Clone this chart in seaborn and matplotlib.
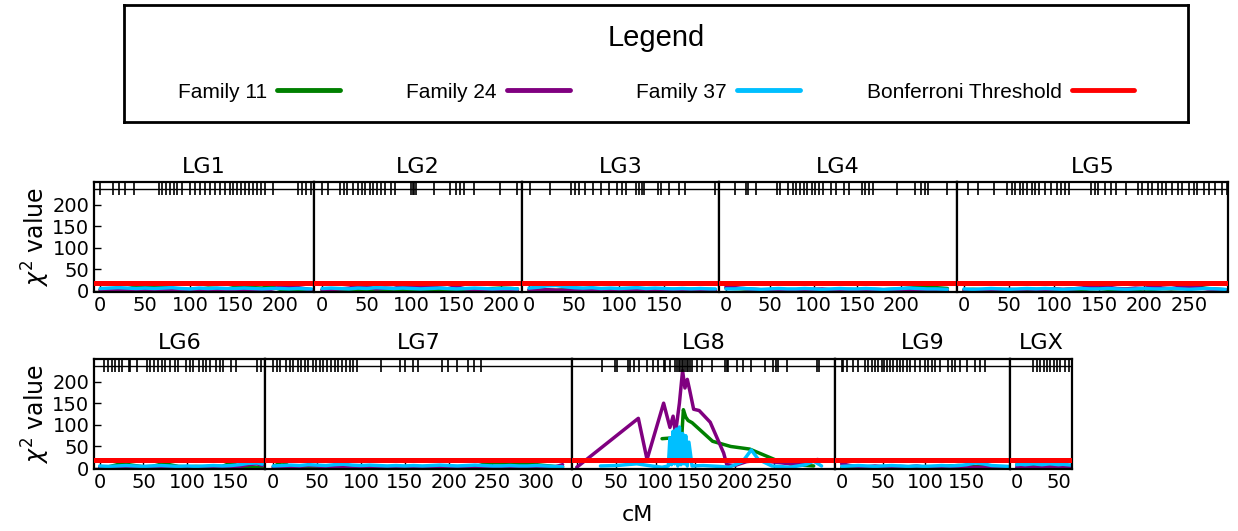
import numpy as np
import pandas as pd
import matplotlib
matplotlib.use("Agg")
import matplotlib.pyplot as plt
import seaborn as sns
from matplotlib.lines import Line2D

sns.set_theme(style="white")
plt.rcParams["font.family"] = ["DejaVu Sans"]
plt.rcParams["text.color"] = "black"
plt.rcParams["axes.labelcolor"] = "black"
plt.rcParams["xtick.color"] = "black"
plt.rcParams["ytick.color"] = "black"

# ---------------- data ----------------
FAMILIES = ["Family 11", "Family 24", "Family 37"]
BONFERRONI = 18
MARKER_ROW = 236

LG1_cm = [0, 10, 20, 30, 40, 50, 60, 70, 80, 90, 100, 110, 120, 130, 140, 150, 160, 170, 180, 190, 200, 210, 220, 230, 235]
LG1_f11 = [2, 2, 3, 4, 9, 7, 8, 9, 4, 3, 2, 3, 6, 5, 3, 8, 9, 7, 6, 10, 3, 2, 2, 1, 1]
LG1_f24 = [1, 1, 2, 1, 2, 1, 2, 1, 1, 2, 1, 1, 2, 1, 1, 2, 1, 1, 2, 3, 8, 9, 7, 4, 2]
LG1_f37 = [5, 6, 7, 6, 5, 6, 5, 6, 7, 5, 4, 6, 5, 6, 5, 5, 6, 5, 4, 5, 5, 4, 5, 4, 4]
LG1_markers = [0, 14, 21, 28, 38, 65, 69, 73, 78, 82, 86, 91, 100, 106, 111, 117, 122, 128, 133, 139,
               144, 148, 152, 157, 161, 166, 170, 174, 179, 183, 192, 220, 225, 229, 234]

LG2_cm = [0, 10, 20, 30, 40, 50, 60, 70, 80, 90, 100, 110, 120, 130, 140, 150, 160, 170, 180, 190, 200, 210, 218]
LG2_f11 = [1, 2, 1, 2, 3, 2, 1, 2, 1, 2, 1, 1, 2, 1, 1, 2, 1, 2, 4, 5, 6, 5, 4]
LG2_f24 = [2, 3, 4, 6, 10, 9, 4, 6, 5, 11, 12, 8, 9, 13, 15, 9, 4, 3, 2, 3, 2, 2, 1]
LG2_f37 = [5, 6, 5, 4, 6, 5, 7, 6, 5, 6, 5, 4, 5, 6, 5, 4, 5, 6, 5, 4, 5, 5, 4]
LG2_markers = [0, 7, 20, 24, 28, 35, 40, 44, 48, 53, 57, 61, 66, 70, 77, 81, 99, 101, 103, 105,
               125, 143, 149, 154, 158, 169, 198, 217]

LG3_cm = [0, 10, 20, 30, 40, 50, 60, 70, 80, 90, 100, 110, 120, 130, 140, 150, 160, 170, 180, 190, 200, 207]
LG3_f11 = [1, 1, 2, 1, 2, 1, 1, 2, 1, 1, 2, 1, 1, 2, 1, 2, 3, 2, 3, 4, 3, 2]
LG3_f24 = [2, 1, 2, 1, 1, 2, 1, 1, 2, 1, 2, 1, 1, 1, 2, 1, 1, 2, 1, 1, 1, 1]
LG3_f37 = [6, 8, 11, 12, 9, 7, 6, 7, 5, 6, 5, 6, 7, 5, 6, 5, 4, 5, 4, 5, 4, 4]
LG3_markers = [1, 23, 47, 51, 56, 62, 71, 80, 89, 98, 103, 108, 119, 122, 125, 128, 143, 147, 156, 167, 173, 207]

LG4_cm = [0, 10, 20, 30, 40, 50, 60, 70, 80, 90, 100, 110, 120, 130, 140, 150, 160, 170, 180, 190, 200, 210, 220, 230, 240, 253]
LG4_f11 = [6, 5, 4, 3, 2, 2, 1, 2, 2, 3, 2, 1, 2, 2, 1, 2, 3, 2, 2, 3, 4, 6, 8, 9, 7, 5]
LG4_f24 = [9, 7, 5, 3, 2, 2, 3, 2, 1, 2, 3, 4, 2, 2, 3, 2, 2, 3, 2, 2, 2, 1, 2, 2, 1, 1]
LG4_f37 = [4, 4, 5, 4, 3, 4, 5, 4, 4, 5, 4, 3, 4, 5, 4, 4, 5, 4, 3, 4, 5, 6, 5, 4, 4, 3]
LG4_markers = [10, 23, 25, 34, 58, 62, 71, 76, 80, 84, 89, 93, 98, 102, 106, 111, 120, 126, 135, 141,
               155, 159, 163, 168, 196, 216, 223, 227, 231, 253]

LG5_cm = [0, 10, 20, 30, 40, 50, 60, 70, 80, 90, 100, 110, 120, 130, 140, 150, 160, 170, 180, 190,
          200, 210, 220, 230, 240, 250, 260, 270, 280, 290]
LG5_f11 = [2, 3, 2, 2, 3, 2, 2, 3, 2, 2, 3, 2, 3, 2, 4, 5, 3, 2, 3, 2, 4, 3, 5, 4, 5, 7, 8, 5, 3, 2]
LG5_f24 = [1, 2, 1, 2, 2, 3, 2, 4, 3, 2, 4, 3, 4, 6, 9, 13, 8, 5, 4, 6, 5, 11, 6, 5, 8, 10, 7, 4, 3, 2]
LG5_f37 = [4, 3, 4, 5, 4, 3, 4, 5, 4, 5, 4, 3, 4, 5, 4, 4, 5, 4, 3, 4, 5, 4, 4, 5, 4, 3, 4, 5, 4, 3]
LG5_markers = [4, 15, 33, 48, 53, 57, 62, 66, 70, 75, 79, 83, 90, 97, 103, 108, 112, 116, 141, 145,
               149, 156, 163, 169, 180, 193, 198, 204, 209, 215, 220, 224, 231, 237, 242, 250,
               255, 259, 266, 272, 279, 286, 292]

LG6_cm = [0, 10, 20, 30, 40, 50, 60, 70, 80, 90, 100, 110, 120, 130, 140, 150, 160, 170, 180, 186]
LG6_f11 = [2, 3, 8, 9, 6, 3, 4, 9, 8, 4, 3, 4, 3, 5, 4, 12, 4, 2, 2, 1]
LG6_f24 = [1, 2, 1, 2, 1, 2, 1, 2, 3, 2, 1, 2, 1, 2, 3, 2, 4, 8, 10, 6]
LG6_f37 = [5, 4, 5, 6, 5, 4, 5, 6, 5, 4, 5, 4, 5, 6, 5, 6, 8, 11, 12, 9]
LG6_markers = [5, 9, 14, 18, 22, 26, 33, 35, 43, 54, 58, 62, 67, 71, 75, 80, 86, 90, 99, 103,
               107, 114, 118, 122, 126, 133, 137, 141, 150, 156, 180, 184]

LG7_cm = [0, 10, 20, 30, 40, 50, 60, 70, 80, 90, 100, 110, 120, 130, 140, 150, 160, 170, 180, 190,
          200, 210, 220, 230, 240, 250, 260, 270, 280, 290, 300, 310, 320, 330]
LG7_f11 = [3, 15, 2, 3, 2, 2, 3, 2, 2, 1, 2, 1, 2, 1, 2, 1, 2, 1, 2, 2, 3, 2, 2, 3, 9, 12, 12, 11, 10, 9, 8, 6, 4, 3]
LG7_f24 = [2, 3, 2, 4, 6, 5, 3, 2, 3, 4, 2, 3, 2, 2, 3, 2, 2, 3, 2, 2, 3, 2, 2, 2, 3, 2, 2, 2, 3, 2, 2, 2, 2, 8]
LG7_f37 = [5, 6, 7, 6, 8, 7, 6, 8, 9, 7, 6, 7, 6, 5, 6, 5, 6, 5, 6, 7, 6, 5, 6, 7, 6, 5, 5, 6, 5, 5, 6, 5, 4, 3]
LG7_markers = [0, 4, 8, 15, 19, 23, 28, 32, 36, 40, 45, 49, 53, 57, 61, 66, 70, 74, 78, 83, 87, 91, 95,
               123, 144, 150, 159, 165, 193, 199, 210, 222, 229, 237]

LG8_f11_cm = [108, 122, 133, 135, 138, 141, 146, 172, 195, 219, 253, 275, 300]
LG8_f11 = [68, 70, 74, 135, 118, 110, 105, 62, 50, 44, 18, 8, 5]
LG8_f24_cm = [0, 78, 89, 110, 118, 122, 125, 130, 134, 137, 140, 143, 148, 155, 169, 186, 190, 200,
              215, 230, 250, 270, 290, 305]
LG8_f24 = [2, 115, 20, 150, 94, 120, 80, 150, 225, 185, 205, 180, 136, 133, 106, 35, 8, 6,
           15, 18, 14, 10, 12, 20]
LG8_f37_cm = [30, 50, 76, 95, 108, 116, 118, 120, 122, 124, 126, 128, 130, 132, 134, 136, 138, 140,
              142, 146, 160, 180, 193, 210, 221, 230, 247, 270, 290, 300, 310]
LG8_f37 = [5, 6, 10, 5, 2, 5, 70, 8, 85, 10, 90, 5, 95, 8, 80, 10, 75, 5,
           60, 5, 6, 4, 2, 15, 42, 20, 5, 2, 8, 16, 5]
LG8_markers = [32, 49, 51, 65, 68, 72, 79, 89, 96, 103, 110, 112, 118, 124, 127, 129, 131, 133, 135,
               137, 139, 141, 143, 146, 152, 158, 171, 188, 190, 192, 203, 211, 221, 238, 249, 252,
               255, 266, 304, 307]

LG9_cm = [0, 10, 20, 30, 40, 50, 60, 70, 80, 90, 100, 110, 120, 130, 140, 150, 160, 170, 180, 190, 200]
LG9_f11 = [3, 2, 3, 2, 2, 3, 2, 2, 3, 2, 3, 2, 4, 5, 6, 5, 4, 3, 2, 2, 1]
LG9_f24 = [10, 6, 4, 3, 5, 3, 2, 4, 3, 5, 2, 3, 2, 2, 3, 2, 2, 2, 1, 2, 1]
LG9_f37 = [4, 5, 6, 5, 4, 5, 6, 5, 4, 5, 4, 5, 6, 5, 6, 8, 12, 10, 6, 5, 4]
LG9_markers = [0, 2, 6, 14, 20, 28, 32, 36, 40, 44, 48, 51, 54, 58, 62, 66, 70, 74, 78, 82, 88, 94,
               100, 104, 108, 112, 118, 128, 132, 136, 142, 150, 160, 166, 172]

LGX_cm = [0, 5, 10, 15, 20, 25, 30, 35, 40, 45, 50, 55, 60, 65]
LGX_f11 = [8, 9, 10, 9, 8, 10, 9, 11, 10, 8, 9, 7, 6, 5]
LGX_f24 = [2, 3, 2, 3, 2, 2, 3, 4, 3, 2, 2, 3, 2, 2]
LGX_f37 = [8, 9, 8, 9, 10, 9, 8, 9, 10, 9, 8, 9, 8, 7]
LGX_markers = [20, 24, 28, 32, 36, 40, 44, 48, 52, 58, 62]

# ---------------- styling / layout ----------------
COLORS = {"Family 11": "#008000", "Family 24": "#800080", "Family 37": "#00BFFF"}
W, H = 1238, 531
fig = plt.figure(figsize=(W / 100, H / 100), dpi=100)


def px_axes(x0, x1, ytop, ybot):
    return fig.add_axes([x0 / W, 1 - ybot / H, (x1 - x0) / W, (ybot - ytop) / H])


def long_df(xs, ys):
    frames = []
    for fam, x, y in zip(FAMILIES, xs, ys):
        frames.append(pd.DataFrame({"cM": x, "chi2": y, "family": fam}))
    return pd.concat(frames, ignore_index=True)


panels = [
    # name, data, markers, px extents, xlim, xticks
    ("LG1", long_df([LG1_cm] * 3, [LG1_f11, LG1_f24, LG1_f37]), LG1_markers, (93.5, 314, 182.5, 291.5), (-7.4, 237.8), [0, 50, 100, 150, 200]),
    ("LG2", long_df([LG2_cm] * 3, [LG2_f11, LG2_f24, LG2_f37]), LG2_markers, (314, 522, 182.5, 291.5), (-9, 223), [0, 50, 100, 150, 200]),
    ("LG3", long_df([LG3_cm] * 3, [LG3_f11, LG3_f24, LG3_f37]), LG3_markers, (522, 719, 182.5, 291.5), (-7.8, 211), [0, 50, 100, 150]),
    ("LG4", long_df([LG4_cm] * 3, [LG4_f11, LG4_f24, LG4_f37]), LG4_markers, (719, 957, 182.5, 291.5), (-8, 264), [0, 50, 100, 150, 200]),
    ("LG5", long_df([LG5_cm] * 3, [LG5_f11, LG5_f24, LG5_f37]), LG5_markers, (957, 1228, 182.5, 291.5), (-7.8, 293), [0, 50, 100, 150, 200, 250]),
    ("LG6", long_df([LG6_cm] * 3, [LG6_f11, LG6_f24, LG6_f37]), LG6_markers, (93.5, 265, 359, 469), (-7.1, 189), [0, 50, 100, 150]),
    ("LG7", long_df([LG7_cm] * 3, [LG7_f11, LG7_f24, LG7_f37]), LG7_markers, (265, 572, 359, 469), (-9.4, 340.7), [0, 50, 100, 150, 200, 250, 300]),
    ("LG8", long_df([LG8_f11_cm, LG8_f24_cm, LG8_f37_cm], [LG8_f11, LG8_f24, LG8_f37]), LG8_markers, (572, 835, 359, 469), (-6, 327), [0, 50, 100, 150, 200, 250]),
    ("LG9", long_df([LG9_cm] * 3, [LG9_f11, LG9_f24, LG9_f37]), LG9_markers, (835, 1010, 359, 469), (-8, 202), [0, 50, 100, 150]),
    ("LGX", long_df([LGX_cm] * 3, [LGX_f11, LGX_f24, LGX_f37]), LGX_markers, (1010, 1072, 359, 469), (-8, 66), [0, 50]),
]

for i, (name, df, markers, (x0, x1, yt, yb), xlim, xticks) in enumerate(panels):
    ax = px_axes(x0, x1, yt, yb)
    sns.lineplot(data=df, x="cM", y="chi2", hue="family", hue_order=FAMILIES,
                 palette=COLORS, estimator=None, sort=False, legend=False,
                 linewidth=2.5, ax=ax)
    ax.axhline(BONFERRONI, color="#FF0000", lw=3.6, zorder=5)
    ax.axhline(MARKER_ROW, color="black", lw=1.0, zorder=4)
    ax.plot(markers, [MARKER_ROW] * len(markers), linestyle="none", marker="|",
            ms=8, mew=1.2, color="black", zorder=4)
    ax.set_xlim(*xlim)
    ax.set_ylim(-2, 252)
    ax.set_xticks(xticks)
    ax.set_xlabel("")
    ax.set_ylabel("")
    ax.set_title(name, fontsize=16, pad=7, color="black")
    first = i in (0, 5)
    if first:
        ax.set_yticks([0, 50, 100, 150, 200])
    else:
        ax.set_yticks([])
    ax.tick_params(axis="both", direction="in", length=5, width=1, color="black",
                   labelcolor="black", labelsize=14, bottom=True, left=first, pad=3)
    for sp in ax.spines.values():
        sp.set_visible(True)
        sp.set_color("black")
        sp.set_linewidth(1.6)

for yc in ((182.5 + 291.5) / 2, (359 + 469) / 2):
    fig.text(36 / W, 1 - yc / H, r"$\chi^2$ value", rotation=90, ha="center",
             va="center", fontsize=17, color="black")
fig.text(637 / W, 1 - 515 / H, "cM", ha="center", va="center", fontsize=16, color="black")

# legend box
axl = px_axes(124, 1188, 5, 122)
axl.set_xticks([])
axl.set_yticks([])
for sp in axl.spines.values():
    sp.set_visible(True)
    sp.set_color("black")
    sp.set_linewidth(2.0)
axl.text(0.5, 1 - (38 - 5) / 117, "Legend", ha="center", va="center", color="black",
         fontsize=21, family="Liberation Sans", transform=axl.transAxes)
handles = [Line2D([], [], color=COLORS[f], lw=3.5) for f in FAMILIES]
handles.append(Line2D([], [], color="#FF0000", lw=3.5))
labels = FAMILIES + ["Bonferroni Threshold"]
leg = axl.legend(handles, labels, loc="center", bbox_to_anchor=(0.5, 1 - (92 - 5) / 117),
                 ncol=4, frameon=False, markerfirst=False, handlelength=3.0,
                 handletextpad=0.5, columnspacing=3.2,
                 prop={"family": "Liberation Sans", "size": 15})
for t in leg.get_texts():
    t.set_color("black")

fig.savefig("out.png", dpi=100)
